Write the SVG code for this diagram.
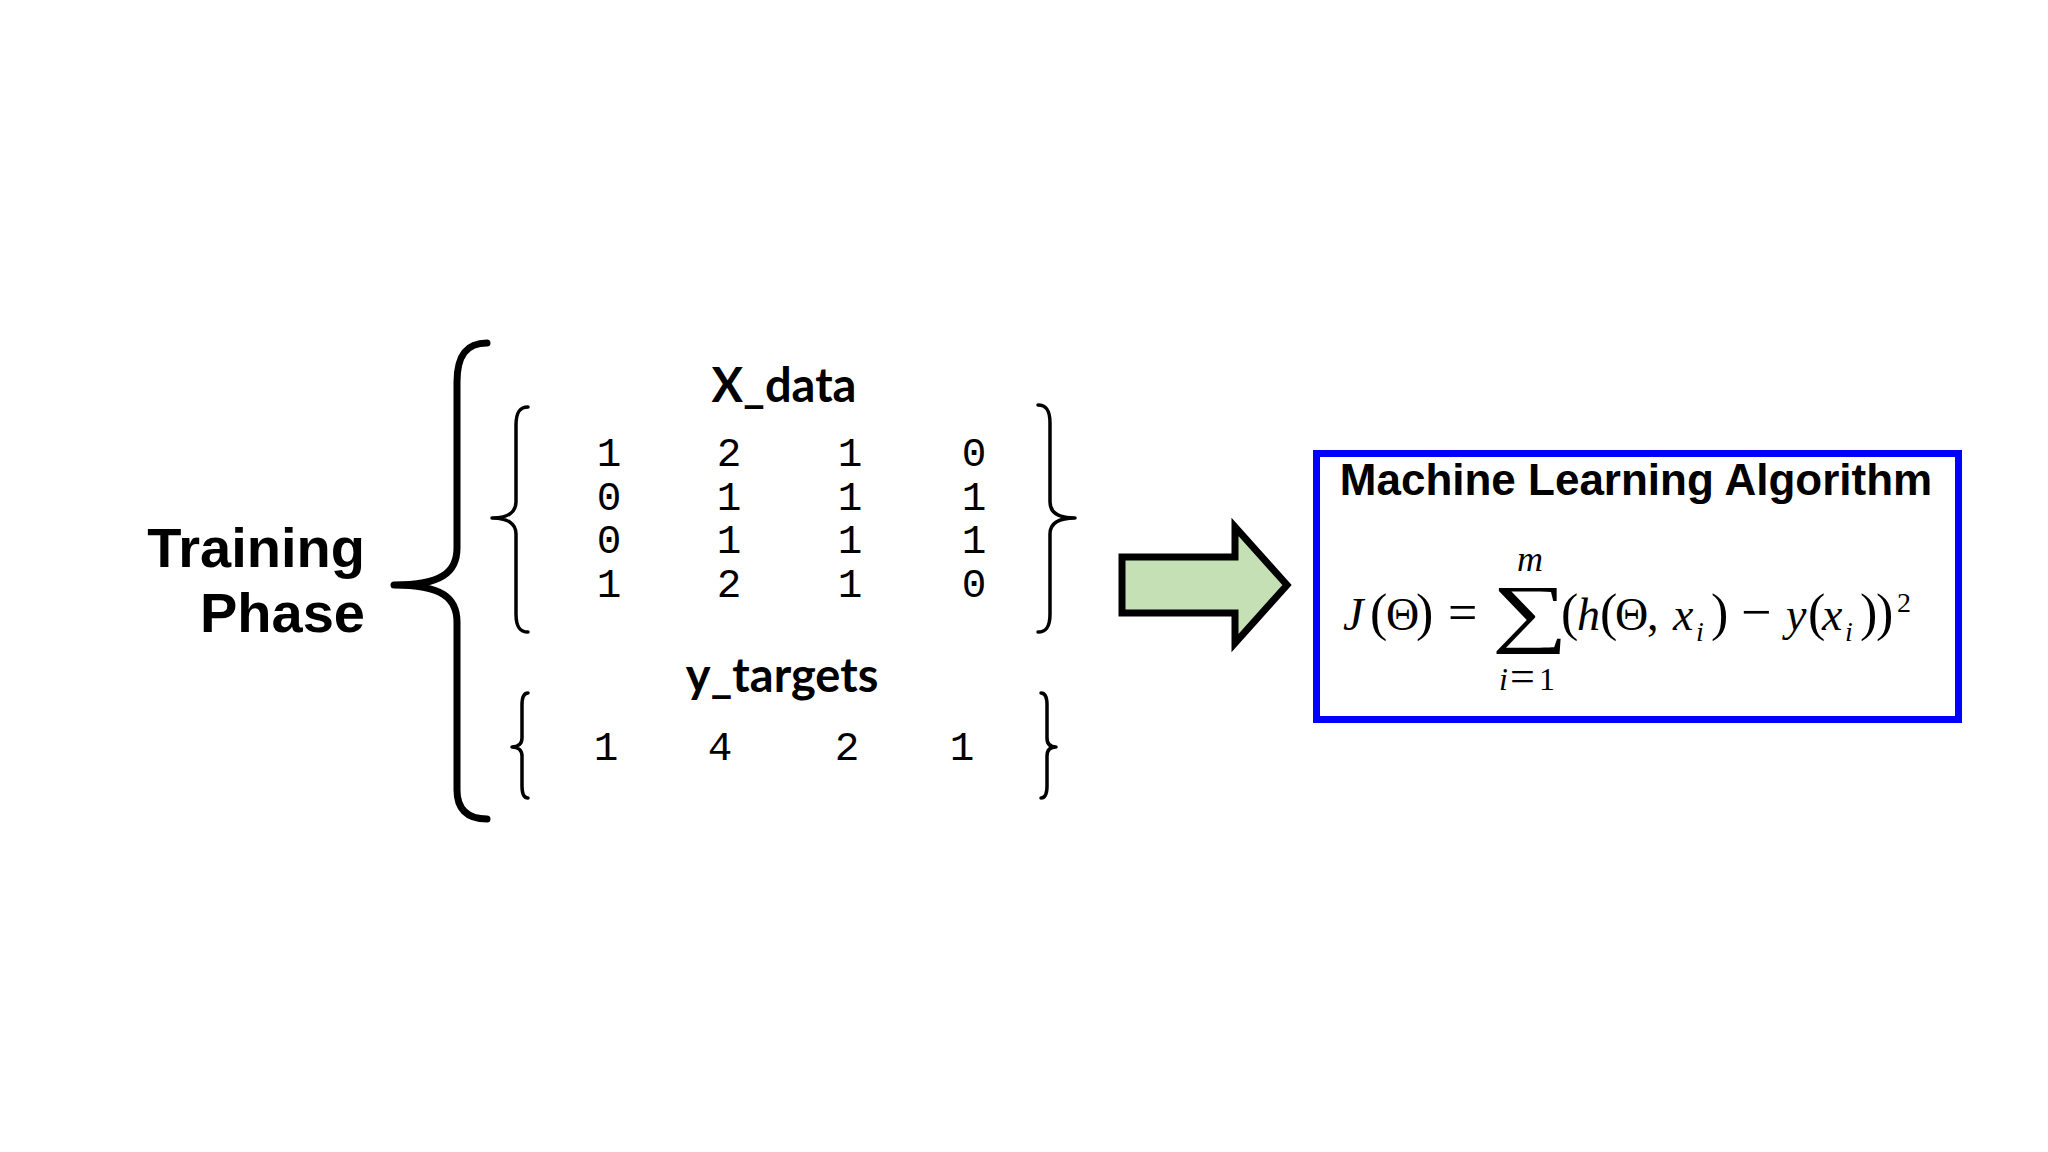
<svg xmlns="http://www.w3.org/2000/svg" width="2048" height="1152" viewBox="0 0 2048 1152">
<defs>
<style>
.title{font-family:"Liberation Sans",Arial,sans-serif;font-weight:bold;fill:#000}
.lbl{font-family:Lato,"Open Sans",sans-serif;font-weight:bold;font-size:47px;fill:#000;text-anchor:middle}
.num{font-family:"Liberation Mono","DejaVu Sans Mono",monospace;font-size:41px;fill:#000;text-anchor:middle}
.brace{fill:none;stroke:#000;stroke-linecap:round;stroke-linejoin:round}
.m{font-family:"Liberation Serif","DejaVu Serif",serif;fill:#000}
.it{font-style:italic}
.p{font-size:52px}
</style>
</defs>
<rect width="2048" height="1152" fill="#fff"/>

<g id="training-phase">
<text class="title" x="365" y="567" font-size="56" text-anchor="end">Training</text>
<text class="title" x="365" y="632" font-size="56" text-anchor="end">Phase</text>
<path class="brace" stroke-width="7" d="M487,343 C466,343 457,356 457,382 L457,548 C457,572 442,585 394,585 C442,585 457,598 457,622 L457,790 C457,808 466,819 487,819"/>
</g>

<g id="x-data">
<text class="lbl" x="784" y="402">X_data</text>
<path class="brace" stroke-width="3.5" d="M528,407 C520,407 516,412 516,425 L516,502 C516,512 508,518 492,518 C508,518 516,524 516,534 L516,614 C516,627 520,632 528,632"/>
<path class="brace" stroke-width="3.5" d="M1038,405 C1046,405 1050,410 1050,423 L1050,502 C1050,512 1058,518 1075,518 C1058,518 1050,524 1050,534 L1050,614 C1050,627 1046,632 1038,632"/>
<g class="num">
<text x="609" y="466">1</text><text x="729" y="466">2</text><text x="850" y="466">1</text><text x="974" y="466">0</text>
<text x="609" y="510">0</text><text x="729" y="510">1</text><text x="850" y="510">1</text><text x="974" y="510">1</text>
<text x="609" y="553">0</text><text x="729" y="553">1</text><text x="850" y="553">1</text><text x="974" y="553">1</text>
<text x="609" y="597">1</text><text x="729" y="597">2</text><text x="850" y="597">1</text><text x="974" y="597">0</text>
</g>
</g>

<g id="y-targets">
<text class="lbl" x="782" y="692">y_targets</text>
<path class="brace" stroke-width="3.5" d="M528,693 C524,693 522,697 522,705 L522,738 C522,744 518,747 512,747 C518,747 522,750 522,756 L522,786 C522,794 524,798 528,798"/>
<path class="brace" stroke-width="3.5" d="M1041,693 C1045,693 1047,697 1047,705 L1047,738 C1047,744 1050,747 1056,747 C1050,747 1047,750 1047,756 L1047,786 C1047,794 1045,798 1041,798"/>
<g class="num">
<text x="606" y="760">1</text><text x="720" y="760">4</text><text x="847" y="760">2</text><text x="962" y="760">1</text>
</g>
</g>

<g id="connectors">
<polygon id="arrow" points="1122,557 1235,557 1235,527 1287,585 1235,643 1235,613 1122,613" fill="#c5e0b4" stroke="#000" stroke-width="7" stroke-linejoin="miter"/>
</g>

<g id="ml-algorithm">
<rect x="1316.5" y="453.5" width="642" height="266" fill="#fff" stroke="#0000ff" stroke-width="7"/>
<text class="title" x="1636" y="495" font-size="44" text-anchor="middle">Machine Learning Algorithm</text>
<g class="m" font-size="46">
<text x="1343" y="630" class="it">J</text>
<text x="1370" y="630" class="p">(</text>
<text x="1386" y="630">Θ</text>
<text x="1416" y="630" class="p">)</text>
<text x="1448" y="630" font-size="52">=</text>
<text transform="translate(1492,638) scale(1.41,1)" x="0" y="0" font-size="76">∑</text>
<text x="1517" y="571" font-size="36" class="it">m</text>
<text x="1499" y="690" font-size="32" class="it">i</text>
<text x="1510" y="691" font-size="44">=</text>
<text x="1539" y="690" font-size="32">1</text>
<text x="1561" y="630" class="p">(</text>
<text x="1577" y="630" class="it">h</text>
<text x="1600" y="630" class="p">(</text>
<text x="1615" y="630">Θ</text>
<text x="1647" y="630">,</text>
<text x="1673" y="630" class="it">x</text>
<text x="1696" y="641" font-size="28" class="it">i</text>
<text x="1711" y="630" class="p">)</text>
<text x="1741" y="630" font-size="54">−</text>
<text x="1786" y="630" class="it">y</text>
<text x="1808" y="630" class="p">(</text>
<text x="1822" y="630" class="it">x</text>
<text x="1845" y="641" font-size="28" class="it">i</text>
<text x="1860" y="630" class="p">)</text>
<text x="1876" y="630" class="p">)</text>
<text x="1897" y="612" font-size="28">2</text>
</g>
</g>
</svg>
